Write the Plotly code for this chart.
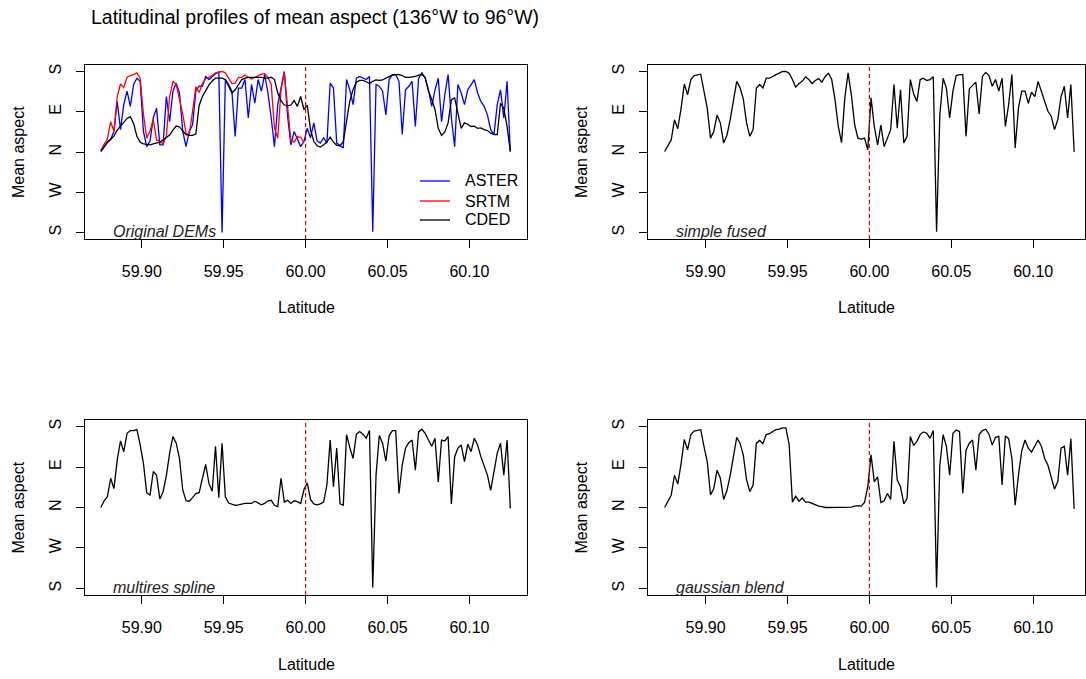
import plotly.graph_objects as go

W, H = 1086, 679

# ---------------- data ----------------
LAT_START = 59.875
LAT_STEP = 0.002
N_PTS = 126
lat = [round(LAT_START + LAT_STEP * i, 3) for i in range(N_PTS)]
BOUNDARY_LAT = 60.0

aster = [3, 14, 23, 29, 46, 113, 50, 106, 136, 102,
         151, 165, 158, 46, 12, 24, 76, 98, 16, 16,
         124, 68, 136, 154, 132, 46, 12, 46, 61, 136,
         147, 147, 169, 162, 169, 175, 179, -180, 162, 151,
         136, 35, 143, 143, 162, 76, 151, 109, 162, 136,
         173, 132, 76, 12, 106, 143, 180, 80, 16, 46,
         27, 12, 24,
         53, 32, 65, 25, 20, 32, 20,
         154, 143, 20, 15, 9, 162, 139, 106, 165, 169,
         165, 162, 169, -178, 151, 147, 136, 83, 162, 173,
         173, 158, 39, 139, 147, 158, 57, 165, 177, 165,
         139, 102, 139, 165, 68, 128, 173, 76, 12, 151,
         132, 106, 139, 151, 162, 132, 113, 102, 83, 50,
         39, 106, 139, 76, 158, 1]

srtm = [3, 18, 29, 68, 46, 124, 152, 144, 167, 171,
        173, 177, 165, 85, 31, 47, 72, 27, 24, 18,
        35, 124, 158, 151, 118, 85, 41, 40, 91, 146,
        133, 153, 164, 167, 171, 177, 179, 180, 177, 165,
        153, 154, 167, 167, 172, 167, 163, 167, 171, 174,
        175, 167, 151, 53, 31, 139, 177, 106, 26, 22,
        34, 33, 20]

cded = [1, 12, 21, 28, 36, 49, 58, 65, 75, 79,
        64, 35, 22, 18, 17, 16, 18, 20, 22, 27,
        32, 38, 49, 58, 56, 47, 39, 37, 37, 40,
        104, 124, 137, 150, 159, 165, 165, 165, 162, 148,
        132, 139, 152, 162, 165, 167, 167, 167, 167, 167,
        165, 165, 167, 162, 132, 115, 105, 103, 105, 115,
        102, 124, 95,
        105, 50, 24, 14, 11, 16, 22,
        33, 22, 15, 14, 23, 64, 114, 140, 156, 160,
        160, 157, 153, 158, 161, 160, 161, 165, 169, 172,
        173, 173, 171, 167, 167, 168, 169, 172, 173, 167,
        136, 118, 95, 53, 37, 45, 65, 117, 121, 87,
        53, 65, 62, 57, 58, 53, 54, 50, 48, 42,
        39, 39, 109, 98, 57, 1]

simple_fused = [1, 15, 27, 72, 52, 97, 152, 128, 162, 171,
                173, 174, 136, 98, 31, 46, 83, 65, 20, 37,
                72, 117, 158, 144, 119, 65, 35, 50, 143, 151,
                143, 165, 165, 169, 173, 177, 180, 180, 176, 162,
                145, 153, 158, 168, 162, 153, 160, 164, 156, 169,
                176, 162, 117, 57, 21, 121, 177, 127, 61, 31,
                29, 31, 5,
                121, 57, 16, 60, 12, 31, 50,
                151, 53, 139, 20, 35, 162, 130, 113, 162, 165,
                160, 162, 168, -178, 83, 165, 143, 76, 136, 171,
                173, 173, 35, 141, 149, 156, 85, 169, 178, 171,
                147, 162, 136, 165, 57, 106, 173, 9, 98, 136,
                136, 109, 134, 124, 158, 137, 115, 91, 80, 50,
                72, 124, 147, 76, 151, 0]

multires_spline = [0, 15, 24, 65, 42, 106, 148, 124, 165, 171,
                   171, 173, 139, 98, 33, 27, 80, 72, 19, 35,
                   71, 121, 158, 143, 109, 39, 15, 14, 22, 31,
                   33, 66, 96, 53, 36, 136, 22, 143, 24, 10,
                   7, 5, 6, 8, 9, 9, 9, 14, 9, 6,
                   9, 15, 16, 5, 2, 65, 12, 16, 9, 15,
                   13, 9, 40,
                   55, 18, 8, 6, 8, 12, 50,
                   150, 46, 132, 8, 5, 162, 133, 109, 163, 169,
                   163, 154, 171, -178, 72, 160, 143, 103, 160, 171,
                   171, 31, 94, 132, 144, 150, 83, 168, 174, 165,
                   150, 136, 154, 57, 150, 148, 158, 8, 113, 132,
                   139, 102, 141, 124, 154, 139, 113, 94, 72, 38,
                   76, 121, 143, 72, 150, -2]

gaussian_blend = [0, 15, 27, 72, 52, 97, 151, 128, 162, 170,
                  172, 173, 136, 102, 28, 42, 83, 65, 18, 37,
                  71, 113, 156, 143, 117, 62, 35, 50, 143, 149,
                  142, 162, 164, 169, 173, 174, 177, 177, 140, 12,
                  25, 14, 21, 12, 12, 9, 6, 3, 2, 0,
                  0, 0, 0, 0, 0, 0, 0, 1, 3, 4,
                  3, 11, 46,
                  117, 57, 68, 11, 15, 31, 18,
                  147, 61, 46, 8, 20, 158, 138, 147, 162, 168,
                  165, 154, 171, -178, 94, 162, 136, 72, 165, 172,
                  169, 31, 128, 143, 150, 83, 162, 171, 174, 163,
                  139, 156, 158, 50, 159, 153, 109, 5, 72, 126,
                  150, 132, 123, 136, 150, 136, 109, 94, 68, 41,
                  57, 132, 136, 72, 153, -3]

y_tickvals = [-180, -90, 0, 90, 180]
y_ticktext = ["S", "W", "N", "E", "S"]
x_tickvals = [59.90, 59.95, 60.00, 60.05, 60.10]
x_ticktext = ["59.90", "59.95", "60.00", "60.05", "60.10"]

series_names = ["ASTER", "SRTM", "CDED"]
series_colors = ["#0000FF", "#FF0000", "#000000"]
panel_labels = ["Original DEMs", "simple fused", "multires spline", "gaussian blend"]

# ---------------- layout helpers ----------------
FONT = "Liberation Sans, Arial, Helvetica, sans-serif"
FS = 16
PX_PER_DEG = 1638.0

# panel boxes in pixels: (x0, x1, ytop, ybottom, x-pixel of lat 60.0)
panels = [
    (85, 527, 65, 239, 305.6),
    (648, 1085, 65, 239, 869.4),
    (85, 527, 420, 595, 305.6),
    (648, 1085, 420, 595, 869.4),
]

def px(x):
    return x / W

def py(y):
    return 1 - y / H

fig = go.Figure()

LW = 1.3
panel_series = [
    [(aster, series_colors[0], series_names[0]),
     (srtm, series_colors[1], series_names[1]),
     (cded, series_colors[2], series_names[2])],
    [(simple_fused, "#000000", "simple fused")],
    [(multires_spline, "#000000", "multires spline")],
    [(gaussian_blend, "#000000", "gaussian blend")],
]

layout_axes = {}
shapes = []
annotations = []

for i, (x0, x1, yt, yb, c60) in enumerate(panels):
    n = i + 1
    xa = "x" if n == 1 else f"x{n}"
    ya = "y" if n == 1 else f"y{n}"
    for vals, col, name in panel_series[i]:
        fig.add_trace(go.Scatter(
            x=lat[:len(vals)], y=vals, mode="lines",
            line=dict(color=col, width=LW), name=name,
            xaxis=xa, yaxis=ya, showlegend=False, hoverinfo="skip"))
    xr = [BOUNDARY_LAT + (x0 - c60) / PX_PER_DEG, BOUNDARY_LAT + (x1 - c60) / PX_PER_DEG]
    common = dict(showgrid=False, zeroline=False, showline=True, mirror=True,
                  linecolor="black", linewidth=1, ticks="outside", ticklen=8,
                  tickwidth=1, tickcolor="black",
                  tickfont=dict(family=FONT, size=FS, color="black"))
    layout_axes["xaxis" if n == 1 else f"xaxis{n}"] = dict(
        common, domain=[px(x0), px(x1)], range=xr, anchor=ya,
        tickvals=x_tickvals, ticktext=x_ticktext, ticklabelstandoff=10)
    layout_axes["yaxis" if n == 1 else f"yaxis{n}"] = dict(
        common, domain=[py(yb), py(yt)], range=[-194.5, 194.5], anchor=xa,
        tickvals=y_tickvals, ticktext=y_ticktext, tickangle=-90,
        ticklabelstandoff=9)
    # boundary line at 60N
    shapes.append(dict(type="line", xref=xa, yref=f"{ya} domain",
                       x0=BOUNDARY_LAT, x1=BOUNDARY_LAT, y0=0, y1=1,
                       line=dict(color="#E00000", width=1.2, dash="4px,3px")))
    # axis titles
    annotations.append(dict(text="Latitude", x=px((x0 + x1) / 2), y=py(yb + 69),
                            xref="paper", yref="paper", showarrow=False,
                            xanchor="center", yanchor="middle",
                            font=dict(family=FONT, size=FS, color="black")))
    annotations.append(dict(text="Mean aspect", x=px(x0 - 67), y=py((yt + yb) / 2),
                            xref="paper", yref="paper", showarrow=False, textangle=-90,
                            xanchor="center", yanchor="middle",
                            font=dict(family=FONT, size=FS, color="black")))
    annotations.append(dict(text=f"<i>{panel_labels[i]}</i>", x=px(x0 + 26), y=py(yb - 8),
                            xref="paper", yref="paper", showarrow=False,
                            xanchor="left", yanchor="middle",
                            font=dict(family=FONT, size=FS, color="#222222")))

# legend in panel 1 (drawn manually)
leg_y = [181, 201, 220]
for name, col, yy in zip(series_names, series_colors, leg_y):
    shapes.append(dict(type="line", xref="paper", yref="paper",
                       x0=px(420), x1=px(450), y0=py(yy), y1=py(yy),
                       line=dict(color=col, width=LW)))
    annotations.append(dict(text=name, x=px(463), y=py(yy), xref="paper", yref="paper",
                            showarrow=False, xanchor="left", yanchor="middle",
                            font=dict(family=FONT, size=FS, color="black")))

annotations.append(dict(text="Latitudinal profiles of mean aspect (136°W to 96°W)",
                        x=px(89), y=py(17), xref="paper", yref="paper", showarrow=False,
                        xanchor="left", yanchor="middle",
                        font=dict(family=FONT, size=19.5, color="black")))

fig.update_layout(width=W, height=H, margin=dict(l=0, r=0, t=0, b=0),
                  plot_bgcolor="white", paper_bgcolor="white",
                  shapes=shapes, annotations=annotations, showlegend=False,
                  **layout_axes)

fig.write_html("out.html")
